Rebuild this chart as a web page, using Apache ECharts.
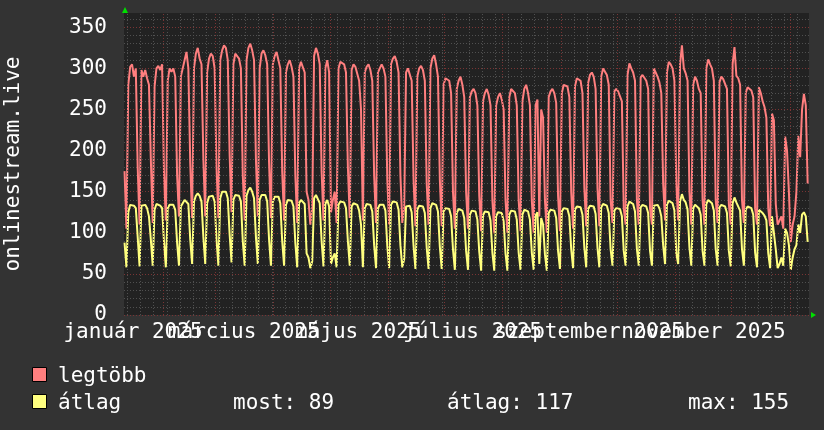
<!DOCTYPE html>
<html>
<head>
<meta charset="utf-8">
<script src="https://cdn.jsdelivr.net/npm/echarts@6/dist/echarts.min.js"></script>
<style>
html,body{margin:0;padding:0;background:#333333;}
#chart{width:824px;height:430px;}
</style>
</head>
<body>
<div id="chart"></div>
<script>
// first data day (UTC), one value per day
const firstDay = [2025, 0, 11];

// legtöbb (daily max), Sat 11 Jan 2025 .. Sat 10 Jan 2026, rows = weeks Mon..Sun
const maxValues = [
  175, 105,
  280, 302, 305, 290, 300, 180, 110,
  298, 290, 298, 288, 280, 190, 112,
  278, 300, 303, 298, 305, 175, 115,
  285, 300, 296, 300, 290, 170, 120,
  290, 300, 310, 320, 300, 185, 118,
  300, 318, 325, 312, 305, 190, 120,
  295, 312, 318, 315, 300, 180, 118,
  310, 322, 328, 325, 310, 195, 125,
  305, 318, 320, 312, 300, 170, 115,
  310, 325, 330, 322, 310, 190, 120,
  300, 318, 322, 316, 305, 185, 118,
  305, 315, 320, 318, 300, 175, 115,
  295, 305, 310, 302, 290, 170, 112,
  300, 308, 310, 295, 150, 140, 110,
  130, 315, 325, 318, 305, 175, 115,
  300, 310, 295, 125, 140, 150, 112,
  300, 308, 310, 305, 295, 180, 118,
  298, 305, 302, 300, 285, 250, 115,
  295, 302, 305, 298, 285, 170, 112,
  295, 300, 305, 300, 290, 165, 110,
  305, 312, 315, 308, 295, 170, 112,
  130, 295, 300, 298, 285, 165, 108,
  290, 300, 303, 298, 285, 160, 110,
  300, 312, 316, 305, 290, 165, 108,
  280, 288, 290, 285, 270, 150, 105,
  275, 285, 290, 280, 265, 150, 105,
  265, 272, 275, 270, 255, 145, 102,
  260, 270, 275, 268, 255, 140, 100,
  255, 265, 270, 262, 250, 140, 100,
  265, 275, 277, 270, 255, 140, 102,
  260, 275, 280, 270, 255, 140, 100,
  255, 262, 120, 250, 240, 140, 100,
  265, 272, 275, 270, 258, 145, 102,
  270, 280, 282, 278, 265, 150, 105,
  278, 288, 290, 285, 270, 155, 108,
  282, 292, 295, 290, 275, 155, 108,
  290, 300, 298, 292, 280, 140, 112,
  272, 275, 272, 270, 260, 130, 110,
  292, 306, 300, 295, 285, 140, 110,
  289, 292, 290, 285, 275, 130, 110,
  300, 295, 290, 283, 270, 160, 115,
  295, 308, 305, 300, 285, 160, 115,
  305, 328, 300, 294, 285, 150, 110,
  280, 290, 285, 275, 270, 140, 110,
  300, 311, 305, 300, 285, 140, 112,
  283, 290, 287, 285, 275, 135, 110,
  305, 326, 291, 288, 280, 140, 112,
  270, 277, 275, 273, 265, 130, 110,
  277, 270, 260, 253, 240, 130, 108,
  245, 237, 135, 110, 115, 120, 105,
  217, 200, 150, 89, 110, 120, 150,
  218, 192, 250, 269, 255, 160
];

// átlag (daily average), same days
const avgValues = [
  88, 58,
  125, 134, 135, 133, 130, 95, 59,
  133, 132, 134, 130, 120, 92, 60,
  128, 135, 134, 133, 130, 90, 58,
  130, 134, 133, 134, 128, 88, 60,
  132, 136, 140, 142, 135, 92, 62,
  138, 145, 148, 145, 138, 95, 62,
  136, 144, 146, 145, 138, 92, 60,
  142, 150, 152, 150, 142, 98, 64,
  140, 146, 148, 145, 138, 90, 60,
  145, 152, 155, 150, 142, 95, 62,
  140, 146, 148, 146, 138, 92, 60,
  138, 144, 146, 144, 136, 90, 60,
  134, 140, 141, 139, 132, 88, 58,
  136, 140, 141, 135, 75, 70, 57,
  65, 142, 146, 144, 136, 90, 59,
  135, 140, 132, 62, 70, 75, 58,
  134, 138, 139, 137, 130, 90, 60,
  132, 136, 136, 134, 127, 110, 58,
  130, 135, 136, 134, 126, 85, 57,
  130, 134, 136, 134, 127, 84, 57,
  134, 138, 139, 137, 128, 85, 58,
  68, 132, 134, 133, 125, 84, 56,
  128, 133, 134, 132, 124, 82, 56,
  130, 136, 138, 134, 126, 83, 56,
  126, 130, 131, 129, 120, 80, 55,
  124, 129, 130, 127, 118, 78, 55,
  122, 127, 128, 126, 116, 77, 54,
  121, 126, 127, 125, 115, 76, 54,
  120, 125, 126, 124, 114, 75, 54,
  122, 127, 128, 126, 116, 76, 55,
  122, 128, 129, 126, 116, 76, 55,
  121, 125, 62, 118, 110, 74, 54,
  124, 128, 129, 127, 118, 78, 56,
  126, 130, 131, 129, 120, 80, 57,
  128, 132, 133, 131, 122, 82, 58,
  129, 133, 134, 132, 123, 82, 58,
  131, 135, 135, 133, 124, 80, 60,
  127, 130, 130, 129, 120, 78, 60,
  132, 138, 137, 135, 126, 80, 60,
  131, 134, 134, 132, 124, 78, 60,
  133, 135, 134, 130, 120, 85, 62,
  134, 139, 138, 136, 127, 75, 62,
  138, 147, 140, 137, 128, 82, 60,
  130, 134, 133, 130, 122, 78, 60,
  135, 140, 138, 136, 127, 80, 60,
  131, 134, 133, 132, 124, 78, 59,
  136, 143, 137, 135, 127, 80, 60,
  128, 132, 131, 130, 122, 76, 58,
  128, 127, 124, 121, 115, 75, 57,
  120, 118, 80, 57, 62, 70, 60,
  105, 100, 85, 55, 70, 80, 85,
  110, 100, 122, 125, 120, 89
];

const yTickLabels = [0, 50, 100, 150, 200, 250, 300, 350];
const monthNames = ['január','február','március','április','május','június',
                    'július','augusztus','szeptember','október','november','december'];
const labelMonthsA = [[2025,0],[2025,4],[2025,8]];
const labelMonthsB = [[2025,2],[2025,6],[2025,10]];
const seriesNames = ['legtöbb', 'átlag'];
const statTexts = ['most: 89', 'átlag: 117', 'max: 155'];
const axisTitle = 'onlinestream.live';

const DAY = 86400000;
const t0 = Date.UTC(firstDay[0], firstDay[1], firstDay[2]);
const xMin = Date.UTC(2025, 0, 11, 5);
const xMax = Date.UTC(2026, 0, 11, 5);
const yMax = 367.4;

const maxPairs = maxValues.map((v, i) => [t0 + i * DAY + DAY / 2, v]);
const avgPairs = avgValues.map((v, i) => [t0 + i * DAY + DAY / 2, v]);

const mondays = [];
for (let t = Date.UTC(2025, 0, 13); t < xMax; t += 7 * DAY) mondays.push(t);
const monthStarts = [];
for (let m = 1; m <= 12; m++) monthStarts.push(Date.UTC(2025, m, 1));
const labelTimesA = labelMonthsA.map(([y, m]) => Date.UTC(y, m, 16));
const labelTimesB = labelMonthsB.map(([y, m]) => Date.UTC(y, m, 16));

const FONT = 'DejaVu Sans Mono';
const RED = '#ff7f7f', YEL = '#ffff7f';
const MINOR = {color: '#505050', width: 1, type: [1, 2]};
const MAJOR = {color: '#7a3434', width: 1, type: [1, 2]};

const gridLines = mondays
  .filter(t => monthStarts.indexOf(t) < 0)
  .map(t => ({xAxis: t, lineStyle: MINOR}))
  .concat(monthStarts.map(t => ({xAxis: t, lineStyle: MAJOR})));

const monthLabel = (val) => { const d = new Date(val); return monthNames[d.getUTCMonth()] + ' ' + d.getUTCFullYear(); };
function labelAxis(values) {
  return {
    type: 'value', min: xMin, max: xMax, position: 'bottom', offset: 0,
    axisLine: {show: false}, axisTick: {show: false}, splitLine: {show: false},
    axisLabel: {
      show: true, customValues: values, hideOverlap: false,
      showMinLabel: true, showMaxLabel: true, alignMinLabel: 'center', alignMaxLabel: 'center',
      color: '#ffffff', fontFamily: FONT, fontSize: 21, margin: 7, formatter: monthLabel
    }
  };
}

const chart = echarts.init(document.getElementById('chart'), null, {renderer: 'canvas', width: 824, height: 430});

chart.setOption({
  animation: false,
  backgroundColor: '#333333',
  grid: {
    left: 124, top: 13, width: 685, height: 302, show: true, backgroundColor: '#222222', borderWidth: 0,
    containLabel: false, outerBoundsMode: 'none'
  },
  xAxis: [labelAxis(labelTimesA), labelAxis(labelTimesB)],
  yAxis: [
    {
      type: 'value', min: 0, max: yMax, interval: 50, position: 'left', z: 2,
      name: axisTitle, nameLocation: 'middle', nameGap: 100, nameRotate: 90,
      nameTextStyle: {color: '#ffffff', fontFamily: FONT, fontSize: 21},
      axisLine: {show: false}, axisTick: {show: false},
      axisLabel: {
        color: '#ffffff', fontFamily: FONT, fontSize: 21, margin: 17, showMaxLabel: false,
        formatter: (v) => yTickLabels.indexOf(v) >= 0 ? String(v) : ''
      },
      splitLine: {show: true, showMaxLine: false, lineStyle: MAJOR}
    },
    {
      type: 'value', min: 0, max: yMax, interval: 10, position: 'left', z: 1,
      axisLine: {show: false}, axisTick: {show: false}, axisLabel: {show: false},
      splitLine: {show: true, showMaxLine: false, lineStyle: MINOR}
    }
  ],
  series: [
    {
      type: 'line', xAxisIndex: 0, yAxisIndex: 0, data: [], z: 1, silent: true,
      markLine: {silent: true, symbol: 'none', label: {show: false}, animation: false, data: gridLines}
    },
    {
      name: seriesNames[0], type: 'line', xAxisIndex: 0, yAxisIndex: 0,
      data: maxPairs, showSymbol: false, symbol: 'none', z: 3,
      lineStyle: {color: RED, width: 2}
    },
    {
      name: seriesNames[1], type: 'line', xAxisIndex: 0, yAxisIndex: 0,
      data: avgPairs, showSymbol: false, symbol: 'none', z: 4,
      lineStyle: {color: YEL, width: 2}
    }
  ],
  graphic: [
    {type: 'polygon', shape: {points: [[122, 13], [128, 13], [125, 7]]}, style: {fill: '#00e000'}, silent: true},
    {type: 'polygon', shape: {points: [[811, 312], [811, 318], [816, 315]]}, style: {fill: '#00e000'}, silent: true},
    {type: 'rect', shape: {x: 32.5, y: 367.5, width: 14, height: 14}, style: {fill: RED, stroke: '#000000', lineWidth: 1}},
    {type: 'rect', shape: {x: 32.5, y: 394.5, width: 14, height: 14}, style: {fill: YEL, stroke: '#000000', lineWidth: 1}},
    {type: 'text', x: 58, y: 377, style: {text: seriesNames[0], fill: '#ffffff', font: '21px "DejaVu Sans Mono"', verticalAlign: 'middle'}},
    {type: 'text', x: 58, y: 404, style: {text: seriesNames[1], fill: '#ffffff', font: '21px "DejaVu Sans Mono"', verticalAlign: 'middle'}},
    {type: 'text', x: 233, y: 404, style: {text: statTexts[0], fill: '#ffffff', font: '21px "DejaVu Sans Mono"', verticalAlign: 'middle'}},
    {type: 'text', x: 447, y: 404, style: {text: statTexts[1], fill: '#ffffff', font: '21px "DejaVu Sans Mono"', verticalAlign: 'middle'}},
    {type: 'text', x: 688, y: 404, style: {text: statTexts[2], fill: '#ffffff', font: '21px "DejaVu Sans Mono"', verticalAlign: 'middle'}}
  ]
});
</script>
</body>
</html>
